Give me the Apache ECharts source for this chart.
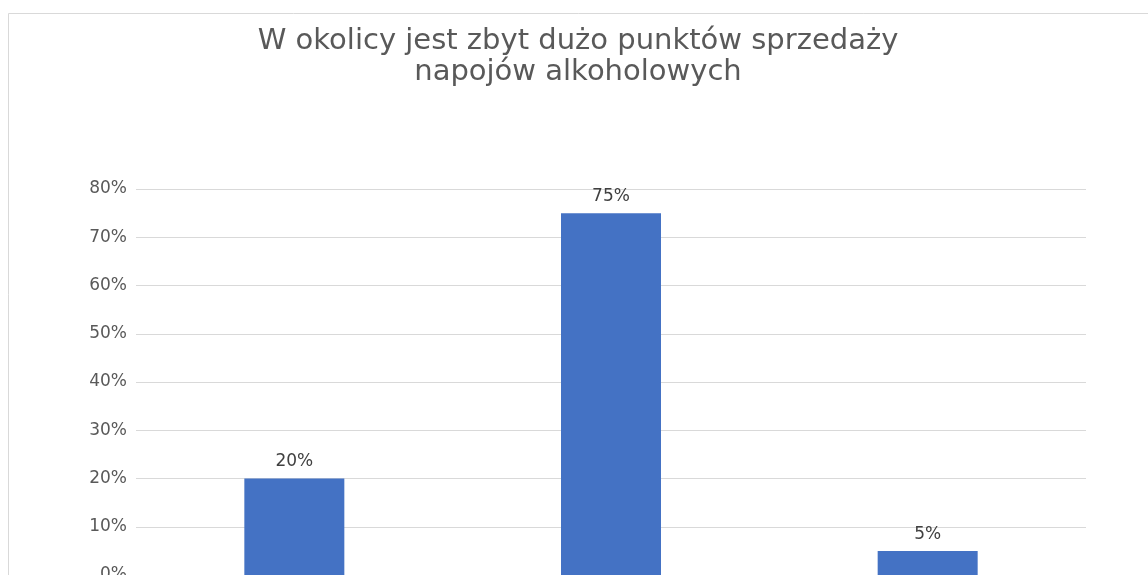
<!DOCTYPE html>
<html><head><meta charset="utf-8">
<script src="https://cdn.jsdelivr.net/npm/echarts@6/dist/echarts.min.js"></script>
<style>html,body{margin:0;padding:0;background:#fff;overflow:hidden}#c{width:1148px;height:575px}</style>
</head><body><div id="c"></div>
<script>
const titleText = 'W okolicy jest zbyt dużo punktów sprzedaży\nnapojów alkoholowych';
const categories = ['Tak', 'Nie', 'Nie wiem'];
const values = [20, 75, 5];
const yTicks = [0, 10, 20, 30, 40, 50, 60, 70, 80];

const FONT = 'DejaVu Sans';
const chart = echarts.init(document.getElementById('c'), null, {renderer: 'canvas', width: 1148, height: 575});
chart.setOption({
  animation: false,
  backgroundColor: '#fff',
  graphic: [{
    type: 'rect', left: 8, top: 13, z: -1,
    shape: {width: 1200, height: 600},
    style: {fill: '#fff', stroke: '#d9d9d9', lineWidth: 1}
  }, {
    type: 'text', x: 578, y: 26, z: 10,
    style: {text: titleText, align: 'center', verticalAlign: 'top', fill: '#595959',
      font: '29px "' + FONT + '"', lineHeight: 31}
  }],
  grid: {left: 136, right: 62, top: 189, height: 386, containLabel: false, outerBoundsMode: 'none'},
  xAxis: {
    type: 'category', data: categories,
    axisLine: {show: true, lineStyle: {color: '#d9d9d9'}},
    axisTick: {show: false},
    axisLabel: {show: false}
  },
  yAxis: {
    type: 'value', min: yTicks[0], max: yTicks[yTicks.length - 1], interval: 10,
    axisLine: {show: false}, axisTick: {show: false},
    splitLine: {lineStyle: {color: '#d9d9d9', width: 1}},
    axisLabel: {formatter: v => v + '%', color: '#595959', fontSize: 17, fontFamily: FONT, margin: 9}
  },
  series: [{
    type: 'bar', data: values, barWidth: 100,
    itemStyle: {color: '#4472C4'},
    label: {show: true, position: 'top', formatter: p => p.value + '%', color: '#404040', fontSize: 17, fontFamily: FONT, distance: 8}
  }]
});
</script></body></html>
